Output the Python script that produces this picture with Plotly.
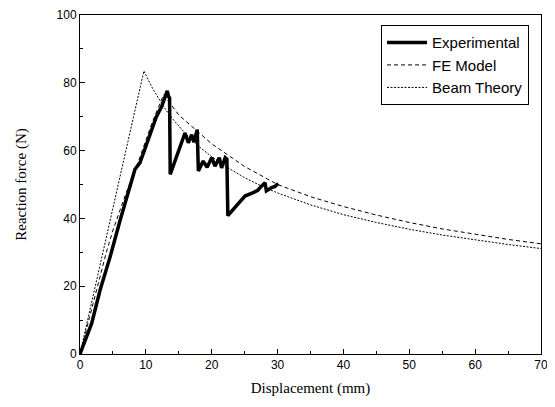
import plotly.graph_objects as go

# Experimental curve
exp_x = [0, 0.5, 1.0, 1.77, 3.04, 4.55, 6.07, 7.59, 8.35, 9.1, 10.1, 11.1, 11.6, 12.4, 13.06, 13.25, 13.45, 13.6,
         13.7, 14.5, 15.3, 15.94, 16.45, 16.96, 17.3, 17.8, 17.97,
         18.7, 19.3, 20.0, 20.5, 21.15, 21.5, 22.05, 22.3,
         22.45, 23.5, 25.05, 26.3, 27.0, 27.6, 28.1, 28.3, 29.1, 29.6, 30.1]
exp_y = [0, 2.5, 5.0, 9.0, 18.8, 28.5, 39.3, 49.1, 54.5, 56.4, 61.8, 67.5, 70.0, 73.0, 76.9, 77.6, 76.0, 75.5,
         53.0, 57.5, 61.5, 65.2, 62.3, 64.7, 62.5, 66.2, 54.0,
         56.9, 55.1, 57.9, 55.4, 57.9, 54.9, 57.9, 57.5,
         40.8, 43.2, 46.6, 47.6, 48.3, 49.6, 50.5, 48.1, 49.1, 49.4, 50.3]

# FE model
fe_x = [0, 2.0, 4.0, 5.0, 7.0, 9.0, 11.0, 12.7, 15.0, 18.7, 20, 25, 30, 35, 40, 45, 50, 55, 60, 65, 70]
fe_y = [0, 15.0, 30.0, 36.5, 47.5, 57.5, 68.5, 76.5, 70.5, 64.2, 62.0, 55.3, 50.0, 46.4, 43.5, 41.0, 38.8, 36.9, 35.3, 33.8, 32.5]

# Beam theory
bt_x = [0, 9.7, 11, 12, 13, 14, 16, 18, 20, 22.5, 25, 27.5, 30, 35, 40, 45, 50, 55, 60, 65, 70]
bt_y = [0, 83.5, 78.4, 75.1, 72.1, 69.5, 65.0, 61.3, 58.2, 54.9, 52.0, 49.6, 47.5, 44.0, 41.1, 38.8, 36.8, 35.1, 33.6, 32.3, 31.1]

x_ticks = [0, 10, 20, 30, 40, 50, 60, 70]
y_ticks = [0, 20, 40, 60, 80, 100]

fig = go.Figure()
fig.add_trace(go.Scatter(x=exp_x, y=exp_y, mode="lines", name="Experimental",
                         line=dict(color="black", width=3.5)))
fig.add_trace(go.Scatter(x=fe_x, y=fe_y, mode="lines", name="FE Model",
                         line=dict(color="black", width=1, dash="4px,3px")))
fig.add_trace(go.Scatter(x=bt_x, y=bt_y, mode="lines", name="Beam Theory",
                         line=dict(color="black", width=1, dash="2px,1.5px")))

axis_common = dict(showgrid=False, zeroline=False, showline=True, linecolor="black", linewidth=1,
                   mirror=True, ticks="inside", ticklen=5, tickcolor="black",
                   ticklabeloverflow="allow",
                   tickfont=dict(family="Arial, Liberation Sans", size=12, color="black"))

fig.update_xaxes(range=[0, 70], tickvals=x_ticks,
                 minor=dict(dtick=5, ticks="inside", ticklen=3, tickcolor="black"),
                 title=dict(text="Displacement (mm)",
                            font=dict(family="Times New Roman, Liberation Serif", size=15, color="black"),
                            standoff=11),
                 **axis_common)
fig.update_yaxes(range=[0, 100], tickvals=y_ticks,
                 minor=dict(dtick=10, ticks="inside", ticklen=3, tickcolor="black"),
                 title=dict(text="Reaction force (N)",
                            font=dict(family="Times New Roman, Liberation Serif", size=15, color="black"),
                            standoff=26),
                 **axis_common)

fig.update_layout(
    width=547, height=399,
    margin=dict(l=72, r=14, t=7, b=53, autoexpand=False),
    plot_bgcolor="white", paper_bgcolor="white",
    legend=dict(x=0.653, y=0.97, xanchor="left", yanchor="top",
                bgcolor="white", bordercolor="black", borderwidth=1,
                font=dict(family="Arial, Liberation Sans", size=15, color="black"),
                itemwidth=40, tracegroupgap=0),
    showlegend=True,
)

fig.write_html("out.html")
